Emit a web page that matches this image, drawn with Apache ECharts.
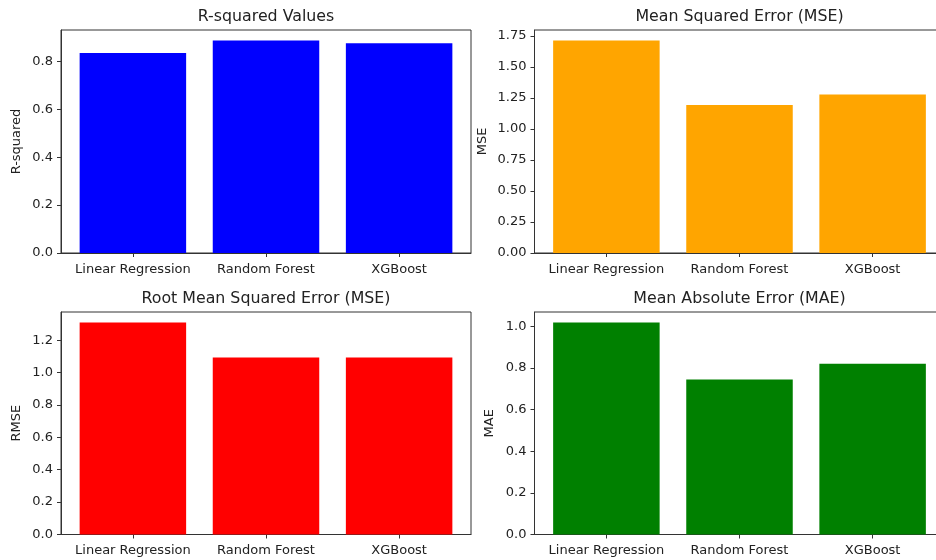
<!DOCTYPE html>
<html>
<head>
<meta charset="utf-8">
<script src="https://cdn.jsdelivr.net/npm/echarts@6/dist/echarts.min.js"></script>
<style>html,body{margin:0;padding:0;background:#fff}#c{width:936px;height:560px}</style>
</head>
<body>
<div id="c"></div>
<script>
var categories = ['Linear Regression', 'Random Forest', 'XGBoost'];
var r2Values = [0.835, 0.887, 0.876];
var mseValues = [1.712, 1.193, 1.278];
var rmseValues = [1.309, 1.093, 1.093];
var maeValues = [1.018, 0.745, 0.820];
var r2Ticks = [0, 0.2, 0.4, 0.6, 0.8];
var mseTicks = [0, 0.25, 0.5, 0.75, 1.0, 1.25, 1.5, 1.75];
var rmseTicks = [0, 0.2, 0.4, 0.6, 0.8, 1.0, 1.2];
var maeTicks = [0, 0.2, 0.4, 0.6, 0.8, 1.0];
var titles = ['R-squared Values', 'Mean Squared Error (MSE)', 'Root Mean Squared Error (MSE)', 'Mean Absolute Error (MAE)'];
var yNames = ['R-squared', 'MSE', 'RMSE', 'MAE'];

var panels = [
  {vals: r2Values, ticks: r2Ticks, dec: 1, color: '#0000ff', left: 61, top: 30, h: 223, gap: 38},
  {vals: mseValues, ticks: mseTicks, dec: 2, color: '#ffa500', left: 534.5, top: 30, h: 223, gap: 45},
  {vals: rmseValues, ticks: rmseTicks, dec: 1, color: '#ff0000', left: 61, top: 312, h: 222.5, gap: 38},
  {vals: maeValues, ticks: maeTicks, dec: 1, color: '#008000', left: 534.5, top: 312, h: 222.5, gap: 38}
];
var W = 410;
var font = 'DejaVu Sans';
var lineColor = '#333';
var textColor = '#222';

var option = {animation: false, backgroundColor: '#fff', title: [], grid: [], xAxis: [], yAxis: [], series: []};
panels.forEach(function (p, i) {
  option.title.push({
    text: titles[i], left: p.left + W / 2, top: p.top - 21, textAlign: 'center', padding: 0,
    textStyle: {fontFamily: font, fontSize: 15.8, fontWeight: 'normal', color: textColor}
  });
  option.grid.push({left: p.left, top: p.top, width: W, height: p.h, show: true, borderColor: lineColor, borderWidth: 1,
    backgroundColor: 'transparent', containLabel: false, outerBoundsMode: 'none'});
  option.xAxis.push({
    type: 'value', gridIndex: i, min: -0.54, max: 2.54,
    axisLine: {show: true, onZero: false, lineStyle: {color: lineColor}},
    axisTick: {show: true, inside: false, length: 4, customValues: [0, 1, 2], lineStyle: {color: lineColor}},
    axisLabel: {customValues: [0, 1, 2], margin: 10, fontFamily: font, fontSize: 13, color: textColor,
      formatter: function (v) { return categories[Math.round(v)] || ''; }},
    splitLine: {show: false}
  });
  var maxV = Math.max.apply(null, p.vals) * 1.05;
  option.yAxis.push({
    type: 'value', gridIndex: i, min: 0, max: maxV,
    name: yNames[i], nameLocation: 'middle', nameGap: p.gap, nameRotate: 90,
    nameTextStyle: {fontFamily: font, fontSize: 13, color: textColor},
    axisLine: {show: true, onZero: false, lineStyle: {color: lineColor}},
    axisTick: {show: true, inside: false, length: 4, customValues: p.ticks, lineStyle: {color: lineColor}},
    axisLabel: {customValues: p.ticks, margin: 8, fontFamily: font, fontSize: 13, color: textColor,
      formatter: (function (d) { return function (v) { return v.toFixed(d); }; })(p.dec)},
    splitLine: {show: false}
  });
  option.series.push({
    type: 'bar', xAxisIndex: i, yAxisIndex: i, barWidth: 106.5, silent: true,
    itemStyle: {color: p.color},
    data: p.vals.map(function (v, k) { return [k, v]; })
  });
});
var chart = echarts.init(document.getElementById('c'), null, {renderer: 'canvas'});
chart.setOption(option);
</script>
</body>
</html>
